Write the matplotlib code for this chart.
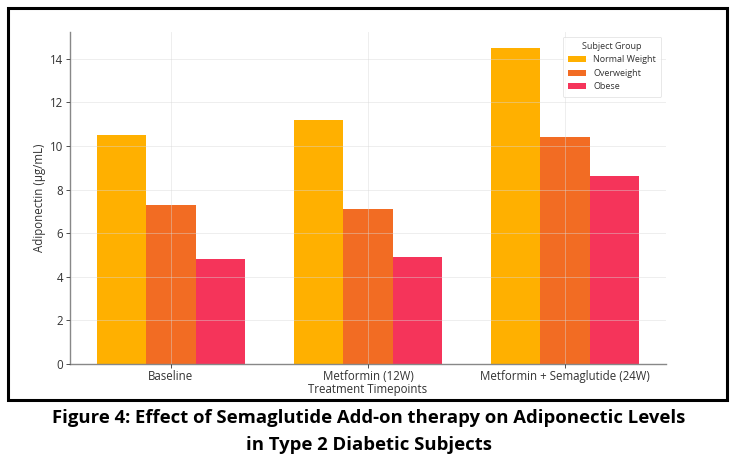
import matplotlib.pyplot as plt
import numpy as np
from matplotlib.patches import Rectangle

timepoints = ["Baseline", "Metformin (12W)", "Metformin + Semaglutide (24W)"]
groups = ["Normal Weight", "Overweight", "Obese"]
normal_weight = [10.5, 11.2, 14.5]
overweight = [7.3, 7.1, 10.4]
obese = [4.8, 4.9, 8.6]
colors = ["#FFB000", "#F26C23", "#F5345A"]

plt.rcParams['font.family'] = ['Open Sans', 'DejaVu Sans']

fig = plt.figure(figsize=(7.38, 4.61), dpi=100)
ax = fig.add_axes([70 / 738, 1 - 364 / 461, 596 / 738, 332 / 461])

x = np.arange(len(timepoints))
w = 0.25
for i, (vals, name) in enumerate(zip([normal_weight, overweight, obese], groups)):
    ax.bar(x + (i - 1) * w, vals, w, color=colors[i], label=name, zorder=1)

ax.set_xticks(x)
ax.set_xticklabels(timepoints, fontsize=8.3, color="#333333")
ax.set_yticks(range(0, 15, 2))
ax.tick_params(axis="y", labelsize=8.3, colors="#333333", length=3, width=0.6, pad=2)
ax.tick_params(axis="x", length=3, width=0.6, colors="#333333", pad=1.5)
ax.set_xlabel("Treatment Timepoints", fontsize=8.3, color="#333333", labelpad=0)
ax.set_ylabel("Adiponectin (µg/mL)", fontsize=8.3, color="#333333", labelpad=3)

ax.grid(True, color="#d8d8d8", linewidth=0.6, alpha=0.5, zorder=2)
ax.set_axisbelow(False)
for s in ["top", "right"]:
    ax.spines[s].set_visible(False)
for s in ["left", "bottom"]:
    ax.spines[s].set_color("#888888")
    ax.spines[s].set_linewidth(1.0)

leg = ax.legend(title="Subject Group", fontsize=6.5, title_fontsize=6.5,
                loc="upper right", frameon=True, handlelength=2.0, handleheight=0.7,
                borderpad=0.6, labelspacing=0.5, handletextpad=0.8)
leg.get_frame().set_edgecolor("#dddddd")
leg.get_frame().set_linewidth(0.6)
leg.get_title().set_color("#333333")
for t in leg.get_texts():
    t.set_color("#333333")

# black frame around the chart
fig.patches.append(Rectangle((8 / 738, 1 - 400 / 461), 719 / 738, 392 / 461,
                             transform=fig.transFigure, fill=False,
                             edgecolor="black", linewidth=2.2, zorder=10))

fig.text(0.5, 1 - 418 / 461, "Figure 4: Effect of Semaglutide Add-on therapy on Adiponectic Levels",
         ha="center", va="center", fontsize=13.3, fontweight="bold")
fig.text(0.5, 1 - 445 / 461, "in Type 2 Diabetic Subjects",
         ha="center", va="center", fontsize=13.3, fontweight="bold")

fig.savefig("out.png", dpi=100)
